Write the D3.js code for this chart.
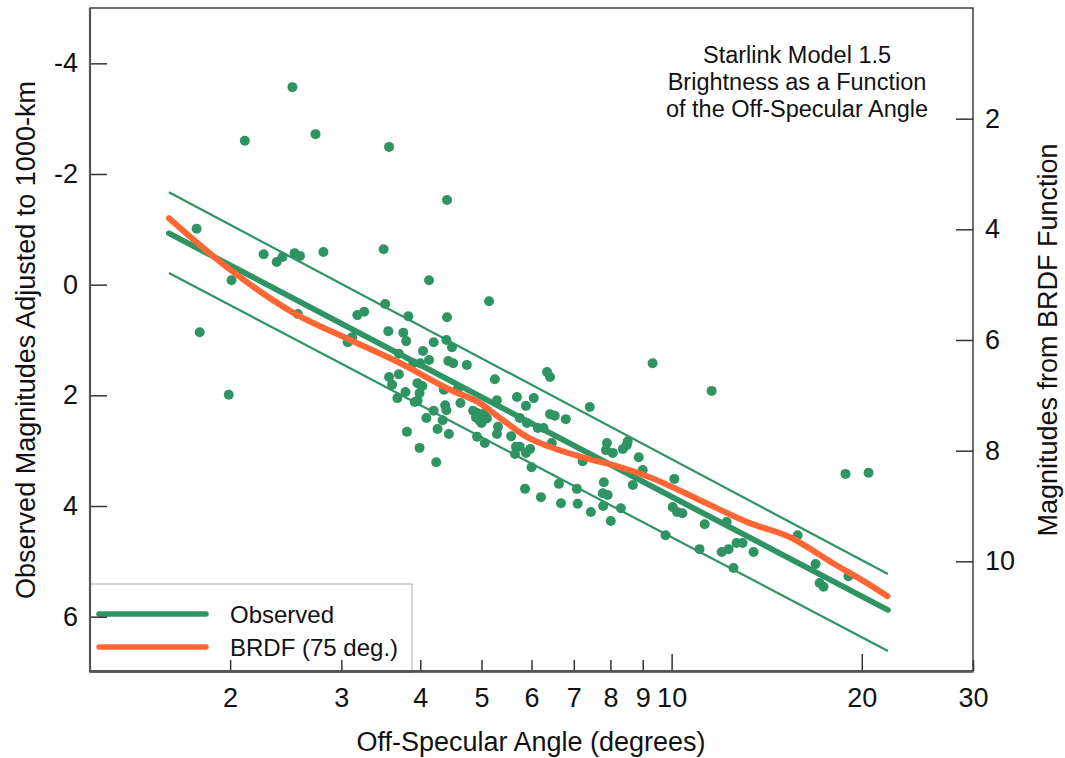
<!DOCTYPE html>
<html>
<head>
<meta charset="utf-8">
<script src="https://cdn.jsdelivr.net/npm/d3@7"></script>
<style>
  body { margin: 0; background: #fff; }
  text { font-family: "Liberation Sans", Arial, sans-serif; fill: #111; }
</style>
</head>
<body>
<div id="viz"></div>
<script>

// observed points: off-specular angle (deg) and magnitude adjusted to 1000 km
var obsAngle = [2.51, 2.11, 2.73, 3.57, 4.41, 1.77, 1.79, 2.01, 1.99, 2.26,
    2.37, 2.42, 2.53, 2.58, 2.81, 3.50, 4.13, 5.14, 3.52, 3.18,
    3.26, 2.56, 3.83, 4.41, 3.56, 3.76, 3.80, 4.20, 4.40, 4.49,
    4.04, 3.07, 3.12, 3.70, 3.90, 4.00, 4.13, 4.43, 4.51, 4.74,
    3.70, 3.57, 3.61, 3.79, 3.68, 3.96, 4.03, 3.99, 3.96, 3.92,
    4.36, 4.58, 4.38, 4.40, 4.63, 4.20, 4.09, 4.34, 4.26, 4.44,
    3.81, 3.99, 4.24, 4.85, 4.92, 5.00, 5.06, 4.97, 5.00, 4.92,
    5.06, 5.25, 6.35, 6.42, 5.69, 6.05, 5.88, 7.42, 5.29, 5.31,
    5.29, 5.57, 5.90, 5.75, 6.42, 6.53, 6.80, 6.14, 6.27, 5.67,
    5.75, 5.65, 5.88, 5.97, 6.00, 6.46, 7.23, 7.90, 7.87, 8.07,
    8.37, 8.52, 8.49, 8.87, 9.00, 5.86, 6.21, 6.63, 6.68, 7.08,
    7.10, 7.45, 7.81, 8.68, 7.78, 7.92, 7.79, 8.31, 8.01, 9.33,
    11.57, 10.10, 10.04, 10.20, 10.40, 9.78, 11.28, 12.22, 11.07, 12.00,
    12.31, 12.67, 12.95, 12.53, 13.48, 15.83, 16.90, 17.15, 17.40, 19.05,
    18.85, 20.50, 4.90, 5.10];
var obsMag = [-3.57, -2.60, -2.72, -2.49, -1.53, -1.01, 0.86, -0.08, 1.99, -0.55,
    -0.41, -0.50, -0.57, -0.52, -0.59, -0.64, -0.08, 0.30, 0.35, 0.55,
    0.49, 0.53, 0.57, 0.59, 0.84, 0.87, 1.02, 1.04, 1.00, 1.13,
    1.20, 1.04, 0.95, 1.25, 1.42, 1.42, 1.36, 1.38, 1.42, 1.45,
    1.62, 1.67, 1.81, 1.94, 2.05, 1.78, 1.83, 1.96, 2.10, 2.12,
    1.90, 1.90, 2.18, 2.27, 2.14, 2.28, 2.41, 2.45, 2.61, 2.70,
    2.66, 2.95, 3.21, 2.28, 2.32, 2.36, 2.32, 2.46, 2.50, 2.75,
    2.86, 1.71, 1.58, 1.67, 2.03, 2.05, 2.19, 2.21, 2.09, 2.57,
    2.70, 2.74, 2.50, 2.41, 2.34, 2.37, 2.43, 2.59, 2.59, 2.93,
    2.93, 3.06, 3.04, 2.97, 3.30, 2.86, 3.19, 2.86, 2.99, 3.04,
    2.97, 2.83, 2.90, 3.12, 3.35, 3.69, 3.84, 3.60, 3.95, 3.69,
    3.96, 4.11, 3.57, 3.62, 3.77, 3.80, 4.00, 4.04, 4.27, 1.42,
    1.92, 3.51, 4.02, 4.11, 4.13, 4.53, 4.33, 4.29, 4.78, 4.83,
    4.78, 4.67, 4.67, 5.12, 4.83, 4.53, 5.05, 5.39, 5.46, 5.27,
    3.42, 3.40, 2.40, 2.42];

// fitted line and its two bounds
var fitAngle = [1.6, 22];
var fitObserved = [-0.93, 5.88];
var fitUpper = [-1.67, 5.23];
var fitLower = [-0.21, 6.62];

// BRDF model curve (75 deg.)
var brdfAngle = [1.6, 2.0, 2.52, 3.10, 3.72, 4.46, 4.97, 5.35, 5.90, 6.41,
    7.23, 8.19, 9.23, 11.07, 13.29, 15.37, 17.98, 20.35, 21.96];
var brdfMag = [-1.20, -0.27, 0.51, 1.00, 1.42, 1.90, 2.14, 2.41, 2.75, 2.93,
    3.12, 3.28, 3.48, 3.89, 4.31, 4.56, 5.03, 5.39, 5.63];

var xTicks = [2, 3, 4, 5, 6, 7, 8, 9, 10, 20, 30];
var yLeftTicks = [-4, -2, 0, 2, 4, 6];
var yRightTicks = [2, 4, 6, 8, 10];
var titleLines = ["Starlink Model 1.5", "Brightness as a Function", "of the Off-Specular Angle"];
var legendNames = ["Observed", "BRDF (75 deg.)"];

function drawChart(){

    var green = "#2e9463";
    var orange = "#ff6633";

    var W = 1065, H = 758;
    var pL = 90, pR = 973, pT = 8, pB = 672;

    var svg = d3.select("#viz").append("svg")
        .attr("width", W)
        .attr("height", H);

    var x = d3.scaleLog().domain([1.2, 30]).range([pL, pR]);
    var y = d3.scaleLinear().domain([-5, 7]).range([pT, pB]);
    var yR = d3.scaleLinear().domain([0, 12]).range([pT, pB]);

    // dots
    svg.append("g").selectAll("circle")
        .data(d3.range(obsAngle.length))
        .enter().append("circle")
            .attr("cx", function(i){ return x(obsAngle[i]); })
            .attr("cy", function(i){ return y(obsMag[i]); })
            .attr("r", 5)
            .style("fill", green);

    var line = d3.line()
        .x(function(d){ return x(d[0]); })
        .y(function(d){ return y(d[1]); });

    function pairs(a, b){ return a.map(function(v, i){ return [v, b[i]]; }); }

    // bounds
    [fitUpper, fitLower].forEach(function(f){
        svg.append("path")
            .attr("d", line(pairs(fitAngle, f)))
            .style("fill", "none")
            .style("stroke", green)
            .style("stroke-width", 2.2);
    });

    svg.append("path")
        .attr("d", line(pairs(fitAngle, fitObserved)))
        .style("fill", "none")
        .style("stroke", green)
        .style("stroke-width", 5.8)
        .style("stroke-linecap", "round");

    svg.append("path")
        .attr("d", line.curve(d3.curveMonotoneX)(pairs(brdfAngle, brdfMag)))
        .style("fill", "none")
        .style("stroke", orange)
        .style("stroke-width", 6)
        .style("stroke-linecap", "round");

    // legend
    var leg = svg.append("g");
    leg.append("rect")
        .attr("x", pL).attr("y", 584)
        .attr("width", 322).attr("height", pB - 584)
        .style("fill", "#fff")
        .style("stroke", "#aaa")
        .style("stroke-width", 1);
    [green, orange].forEach(function(c, i){
        leg.append("line")
            .attr("x1", 99).attr("x2", 206)
            .attr("y1", 614 + i * 33).attr("y2", 614 + i * 33)
            .style("stroke", c)
            .style("stroke-width", 5.5)
            .style("stroke-linecap", "round");
        leg.append("text")
            .attr("x", 230).attr("y", 623 + i * 33)
            .style("font-size", "24px")
            .text(legendNames[i]);
    });

    // frame
    svg.append("rect")
        .attr("x", pL).attr("y", pT)
        .attr("width", pR - pL).attr("height", pB - pT)
        .style("fill", "none")
        .style("stroke", "#222")
        .style("stroke-width", 1.3);

    function styleAxis(g){
        g.select(".domain").remove();
        g.selectAll(".tick line").style("stroke", "#333").style("stroke-width", 1.5);
        g.selectAll(".tick text")
            .style("font-size", "27px")
            .style("font-family", "'Liberation Sans', Arial, sans-serif")
            .style("fill", "#111");
    }

    svg.append("g")
        .attr("transform", "translate(" + pL + ",0)")
        .call(d3.axisLeft(y).tickValues(yLeftTicks).tickSize(-17).tickPadding(12)
            .tickFormat(function(d){ return String(d); }))
        .call(styleAxis);

    svg.append("g")
        .attr("transform", "translate(" + pR + ",0)")
        .call(d3.axisRight(yR).tickValues(yRightTicks).tickSize(-17).tickPadding(12)
            .tickFormat(function(d){ return String(d); }))
        .call(styleAxis);

    var xg = svg.append("g")
        .attr("transform", "translate(0," + (pB - 1) + ")")
        .call(d3.axisBottom(x).tickValues(xTicks).tickSize(-11).tickPadding(17)
            .tickFormat(function(d){ return String(d); }))
        .call(styleAxis);
    xg.selectAll(".tick line").attr("y2", function(d){ return d == 10 || d == 20 ? -17 : -11; });

    // thicker gray left and bottom lines
    svg.append("line").attr("x1", pL).attr("x2", pL).attr("y1", pT).attr("y2", pB)
        .style("stroke", "#555").style("stroke-width", 2.2);
    svg.append("line").attr("x1", pL).attr("x2", pR).attr("y1", pB - 1).attr("y2", pB - 1)
        .style("stroke", "#555").style("stroke-width", 2.2);

    // titles
    svg.append("text")
        .attr("transform", "translate(35,340) rotate(-90)")
        .attr("text-anchor", "middle")
        .style("font-size", "27px")
        .text("Observed Magnitudes Adjusted to 1000-km");

    svg.append("text")
        .attr("transform", "translate(1057,340) rotate(-90)")
        .attr("text-anchor", "middle")
        .style("font-size", "27px")
        .text("Magnitudes from BRDF Function");

    svg.append("text")
        .attr("x", 531).attr("y", 751)
        .attr("text-anchor", "middle")
        .style("font-size", "27px")
        .text("Off-Specular Angle (degrees)");

    svg.append("g").selectAll("text")
        .data(titleLines)
        .enter().append("text")
            .attr("x", 797)
            .attr("y", function(d, i){ return 63 + i * 27; })
            .attr("text-anchor", "middle")
            .style("font-size", "23.5px")
            .text(function(d){ return d; });
}

drawChart();

</script>
</body>
</html>
